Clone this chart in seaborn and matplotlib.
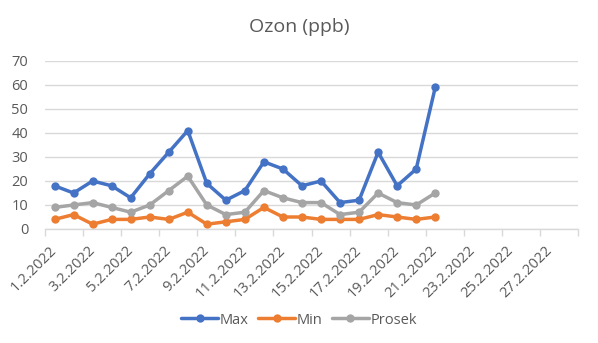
import matplotlib
matplotlib.use("Agg")
import matplotlib.pyplot as plt
import seaborn as sns
import pandas as pd
import numpy as np

# ---- data ----
dates = [f"{d}.2.2022" for d in range(1, 29)]
max_vals = [18, 15, 20, 18, 13, 23, 32, 41, 19, 12, 16, 28, 25, 18, 20, 11, 12, 32, 18, 25, 59]
min_vals = [4, 6, 2, 4, 4, 5, 4, 7, 2, 3, 4, 9, 5, 5, 4, 4, 4, 6, 5, 4, 5]
prosek_vals = [9, 10, 11, 9, 7, 10, 16, 22, 10, 6, 7, 16, 13, 11, 11, 6, 7, 15, 11, 10, 15]
series_names = ["Max", "Min", "Prosek"]
colors = ["#4472C4", "#ED7D31", "#A5A5A5"]

rows = []
for name, vals in zip(series_names, [max_vals, min_vals, prosek_vals]):
    for i, v in enumerate(vals):
        rows.append({"idx": i, "date": dates[i], "value": v, "series": name})
df = pd.DataFrame(rows)

sns.set_theme(style="white")
plt.rcParams["font.family"] = ["Open Sans", "DejaVu Sans"]

fig = plt.figure(figsize=(5.98, 3.43), dpi=100)
ax = fig.add_axes([45 / 598, 1 - 229 / 343, (578 - 45) / 598, (229 - 61) / 343])

sns.lineplot(data=df, x="idx", y="value", hue="series", hue_order=series_names,
             palette=colors, marker="o", markersize=6, markeredgewidth=0,
             linewidth=2.5, ax=ax)

ax.set_xlim(-0.5, len(dates) - 0.5)
ax.set_ylim(0, 70)
ax.set_yticks(range(0, 71, 10))
ax.yaxis.grid(True, color="#D9D9D9", linewidth=1)
ax.set_axisbelow(True)
for s in ["top", "right", "left"]:
    ax.spines[s].set_visible(False)
ax.spines["bottom"].set_color("#D9D9D9")
ax.spines["bottom"].set_linewidth(1)

ax.set_xticks(np.arange(0, len(dates), 2))
ax.set_xticklabels(dates[::2], rotation=45, ha="right", rotation_mode="anchor",
                   va="center")
ax.set_xticks(np.arange(-0.5, len(dates), 2), minor=True)
ax.tick_params(axis="x", which="major", length=0, pad=14, labelsize=10.5, labelcolor="#595959")
ax.tick_params(axis="x", which="minor", length=5, width=1, color="#D9D9D9", bottom=True)
ax.tick_params(axis="y", length=0, pad=12, labelsize=10.5, labelcolor="#595959")
ax.set_xlabel("")
ax.set_ylabel("")

fig.suptitle("Ozon (ppb)", x=0.5, y=1 - 27 / 343, fontsize=14, color="#595959", va="center")

sns.move_legend(ax, "center", bbox_to_anchor=(0.5, 1 - 320 / 343),
                bbox_transform=fig.transFigure, ncol=3, frameon=False, title=None,
                fontsize=10.5, handlelength=2.5, columnspacing=0.7, handletextpad=0.1,
                labelcolor="#595959")

fig.savefig("out.png", dpi=100)
